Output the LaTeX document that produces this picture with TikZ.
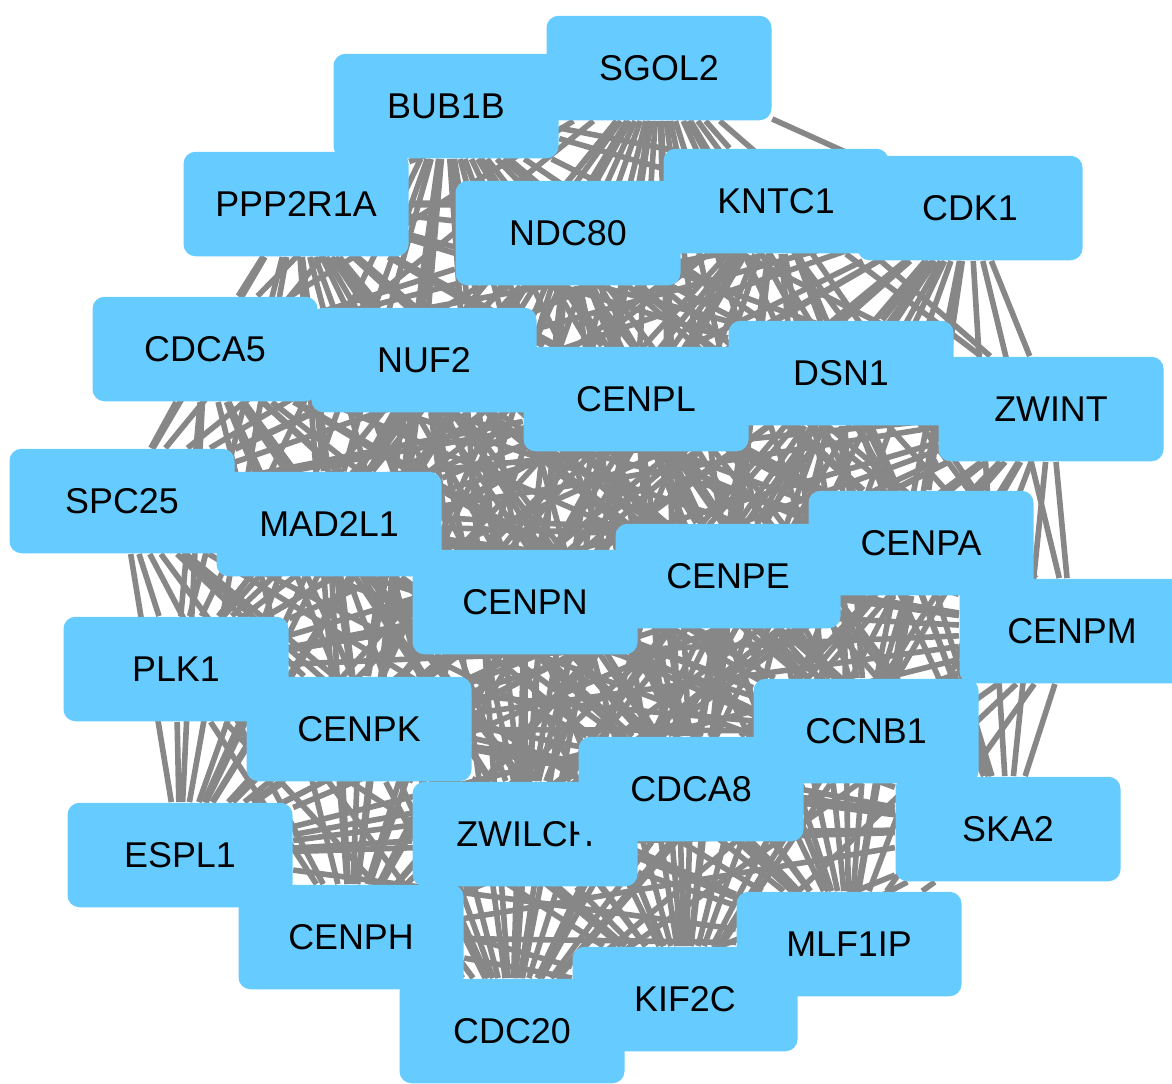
\documentclass[tikz,border=0pt]{standalone}
\usepackage{fontspec}
\setmainfont{Liberation Sans}
\usepackage{tikz}
\usetikzlibrary{backgrounds}
\definecolor{geneblue}{HTML}{66CCFF}
\definecolor{linkgray}{HTML}{878787}
\tikzset{
  gene/.style={rounded corners=3.4pt, fill=geneblue, draw=none, inner sep=0pt, minimum width=22.5mm, minimum height=10.45mm, font=\fontsize{10.2}{12}\selectfont},
  link/.style={draw=linkgray, line width=1.6pt}
}
\begin{document}
\begin{tikzpicture}[x=0.1mm,y=-0.1mm]
  \useasboundingbox (0,0) rectangle (1172,1083);
  % genes, placed at the layout positions
  \node[gene] (BUB1B) at (446,106) {BUB1B};
  \node[gene] (SGOL2) at (659,68) {SGOL2};
  \node[gene] (PPP2R1A) at (296,204) {PPP2R1A};
  \node[gene] (NDC80) at (568,233) {NDC80};
  \node[gene] (KNTC1) at (776,201) {KNTC1};
  \node[gene] (CDK1) at (970,208) {CDK1};
  \node[gene] (CDCA5) at (205,349) {CDCA5};
  \node[gene] (NUF2) at (424,360) {NUF2};
  \node[gene] (CENPL) at (636,399) {CENPL};
  \node[gene] (DSN1) at (841,373) {DSN1};
  \node[gene] (ZWINT) at (1051,409) {ZWINT};
  \node[gene] (SPC25) at (122,501) {SPC25};
  \node[gene] (MAD2L1) at (329,524) {MAD2L1};
  \node[gene] (CENPN) at (525,602) {CENPN};
  \node[gene] (CENPE) at (728,576) {CENPE};
  \node[gene] (CENPA) at (921,543) {CENPA};
  \node[gene] (CENPM) at (1072,631) {CENPM};
  \node[gene] (PLK1) at (176,669) {PLK1};
  \node[gene] (CENPK) at (359,729) {CENPK};
  \node[gene] (ZWILCH) at (525,834) {ZWILCH};
  \node[gene] (CDCA8) at (691,789) {CDCA8};
  \node[gene] (CCNB1) at (866,731) {CCNB1};
  \node[gene] (SKA2) at (1008,829) {SKA2};
  \node[gene] (ESPL1) at (180,855) {ESPL1};
  \node[gene] (CENPH) at (351,937) {CENPH};
  \node[gene] (KIF2C) at (685,999) {KIF2C};
  \node[gene] (MLF1IP) at (849,944) {MLF1IP};
  \node[gene] (CDC20) at (512,1031) {CDC20};

  % every pair of genes is linked
  \def\genelist{BUB1B,SGOL2,PPP2R1A,NDC80,KNTC1,CDK1,CDCA5,NUF2,CENPL,DSN1,ZWINT,SPC25,MAD2L1,CENPN,CENPE,CENPA,CENPM,PLK1,CENPK,ZWILCH,CDCA8,CCNB1,SKA2,ESPL1,CENPH,KIF2C,MLF1IP,CDC20}
  \begin{pgfonlayer}{background}
    \foreach \ga [count=\i] in \genelist {
      \foreach \gb [count=\j] in \genelist {
        \ifnum\i<\j \draw[link] (\ga) -- (\gb); \fi
      }
    }
  \end{pgfonlayer}
\end{tikzpicture}
\end{document}
